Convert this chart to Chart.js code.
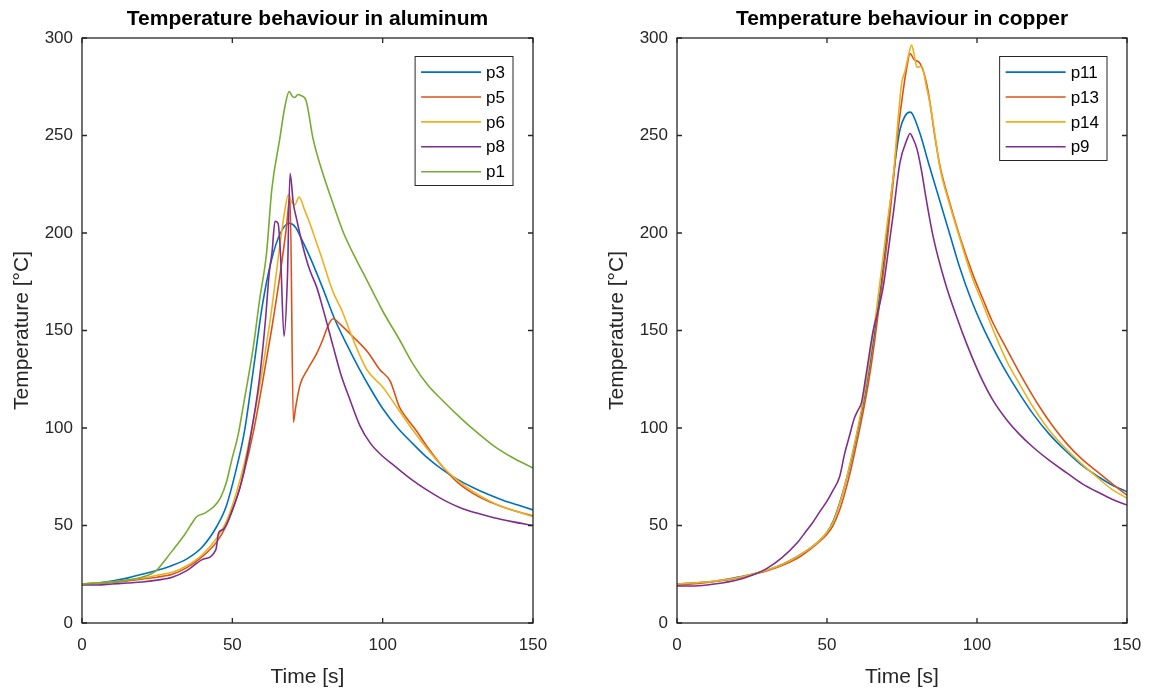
<!DOCTYPE html>
<html>
<head>
<meta charset="utf-8">
<script src="https://cdn.jsdelivr.net/npm/chart.js@4.4.1/dist/chart.umd.min.js"></script>
<style>
  html, body { margin: 0; padding: 0; background: #fff; }
  #wrap { position: relative; width: 1157px; height: 692px; overflow: hidden; }
  canvas { position: absolute; top: 0; }
</style>
</head>
<body>
<div id="wrap">
  <canvas id="al" width="578" height="692" style="left:0px"></canvas>
  <canvas id="cu" width="579" height="692" style="left:578px"></canvas>
</div>
<script>
// ---- Axis ticks ----
const timeTicks = [0, 50, 100, 150];
const tempTicks = [0, 50, 100, 150, 200, 250, 300];

// ---- Aluminum probes: time [s] and temperature [°C] ----
const alP3T = [0,5,10,15,20,25,30,35,40,45,48,51,54,57,60,63,66,69,71,73,76,80,84,88,92,96,100,105,110,115,120,125,130,135,140,145,150];
const alP3  = [20,20.5,21.5,23,25,27,29.5,33,39,50,60,77,98,130,163,186,200,205,203,197,187,172,156,143,131,120,110,100,92,84.5,78.5,73.5,69.5,66,63,60.5,58];

const alP5T = [0,5,10,15,20,25,30,35,40,45,48,51,54,57,60,63,66,68,69.2,70.3,71,72.5,75,78,80,82,83.5,86,90,95,99,102.5,105.5,108,111,115,120,125,130,135,140,145,150];
const alP5  = [20,20.3,20.8,21.5,22.5,23.5,25,28.5,34,42,50,62,78,98,123,150,180,203,219,103,110,122,130,138,145,153,156,153,147,139,130,124,111,105,99,90,80,72,66.5,62.5,59.5,57,55];

const alP6T = [0,5,10,15,20,25,30,35,40,45,48,51,54,57,60,63,65.5,67.5,68.6,69.7,70.8,72.2,74,76,78,80,82.5,84,86.5,90,94.7,100,105,110,115,120,125,130,135,140,145,150];
const alP6  = [20,20.5,21,22,23,24.5,26,29.5,35,44,52,65,82,104,130,160,190,212,219.5,216,214.5,218.5,212,204,195,186,174,168,160,146,130,121,110,99,89,80,73,67.5,63,59.5,57,54.5];

const alP8T = [0,5,10,15,20,25,30,35,40,44.5,45.5,47,50,53,56,59,61,62.3,63.2,64.2,65.2,66,67.2,68.3,69.2,70.3,71.4,73,74.7,76,78,80,83.5,86,89,92.5,96,100,104,108,112,116,121,126,131,137,143,150];
const alP8  = [19.5,19.5,20,20.5,21,22,23.5,27,32.5,37.5,46.5,48,58,72,95,125,155,180,190,206,205,190,147,176,230.5,215,207,196,186,180,172.5,162,142,128,115,101,92,85.5,80.5,75.5,71,67,62.5,59,56.5,54,52,50];

const alP1T = [0,5,10,15,20,24.8,28,31,34,36.5,38.1,41,43.7,46,48,49.8,52,53.6,57,59,61.4,63.1,65.8,67.5,68.9,70,70.8,71.8,72.8,74.5,76.9,80,83.5,87,91,94.7,100,105.7,110,115,120,125,130,136.8,143,150];
const alP1  = [20,20.5,21,22,23.5,27,33,39,45,51,54.5,56.5,59.5,64,72,83.6,97,111,141.7,165,190,222,248.5,265,272.5,270,269.5,271,270.5,268,248,231,215,200,187,176,160,145,133,122,114,106.5,99.5,91,85,79.5];

// ---- Copper probes: time [s] and temperature [°C] ----
const cuP11T = [0,5,10,15,20,25,30,35,40,45,48,50,52,54,56,58,60,62,64,66,68,69,71,73,74.3,76,77.7,78.5,81,84,87.7,91,94.3,98,102,105.4,110,115,118.8,124,129.9,135,141,145,150];
const cuP11  = [20,20.5,21,22,23.4,25,27,30,34,39,43,46.5,52,60.5,71,83,97,112,130,151,173,186,214,240,252.8,260,262,261,251,235,216,199,182,166,151.6,141,128,115.6,107,97,87.8,80.8,74.5,70.8,67.3];

const cuP13T = [0,5,10,15,20,25,30,35,40,45,48,50,52,54,56,58,60,62,64,66,68,70,72,73.5,75.4,76.5,77.7,79,81,82.5,84,86,87.7,91,94.3,98.8,102,105,109.9,115,121,125,129.9,135,141,145,150];
const cuP13  = [19.5,20,20.8,21.8,23,24.8,26.8,29.5,33,38.5,42.5,45.5,50,57,67,79,93,108,125,146,170,195,225,250,273,284,292,289,287,281,270,249,234,215,198,178,166,155,140.5,126,110.5,101.5,92,84,76.5,71.5,65.6];

const cuP14T = [0,5,10,15,20,25,30,35,40,45,48,50,52,54,56,58,60,62,64,66,68,70,72.1,73.5,74.9,76,77,78.2,79,80,81.6,83,84.5,86,87.7,91,94.3,98.2,102,106,110,114,118.8,124,129.9,135,141,145,150];
const cuP14  = [20,20.5,21,22,23.2,25,27.2,30,34,39,43,46.5,51.5,60,71,84,98,114,133,155,179,204,229,255,277,283,290,296.4,292,285,285.5,276,265,250,233,214,197,178,163.5,148,134,123,110.5,99,89,81.5,73.5,68.5,64];

const cuP9T = [0,5,10,15,20,25,30,35,40,43,45,48,50,52,54.2,55.9,57.5,59.1,60.3,61.5,63,65.4,67.5,68.8,70,72.1,74.3,76.6,77.7,78.5,80,81.5,83,85.4,89.3,93.2,96.6,101,105.4,110,114,118.8,124,129.9,135,141,145,150];
const cuP9  = [19,19,19.5,20.5,22,24.5,28,33.5,41,47,51,58,62.5,68,75,87,96,105,109,113,127,150,163,173,186,210,236,247.7,251,249,243,232,218,198,175,157,143,127,114,104,97,90,83.5,77,71.5,66.5,63.5,60.5];

// ---- Line colours ----
const C_BLUE = '#0072BD', C_RED = '#D95319', C_YEL = '#EDB120', C_PUR = '#7E2F8E', C_GRN = '#77AC30';
const AXIS_COLOR = '#262626';
const FONT = '"Liberation Sans", Arial, Helvetica, sans-serif';

function pts(t, v) { return t.map((x, i) => ({ x, y: v[i] })); }

// Box around the axes, inward ticks on all four sides, heading and legend
const framePlugin = {
  id: 'frame',
  afterDraw(chart, args, opts) {
    const { ctx, chartArea: a } = chart;
    const xs = chart.scales.x, ys = chart.scales.y;
    ctx.save();
    ctx.strokeStyle = AXIS_COLOR;
    ctx.lineWidth = 1.3;
    ctx.strokeRect(a.left, a.top, a.right - a.left, a.bottom - a.top);
    const tl = 5;
    ctx.beginPath();
    xs.ticks.forEach(tk => {
      const px = xs.getPixelForValue(tk.value);
      ctx.moveTo(px, a.bottom); ctx.lineTo(px, a.bottom - tl);
      ctx.moveTo(px, a.top); ctx.lineTo(px, a.top + tl);
    });
    ys.ticks.forEach(tk => {
      const py = ys.getPixelForValue(tk.value);
      ctx.moveTo(a.left, py); ctx.lineTo(a.left + tl, py);
      ctx.moveTo(a.right, py); ctx.lineTo(a.right - tl, py);
    });
    ctx.stroke();

    // heading
    ctx.fillStyle = '#000';
    ctx.font = 'bold 21px ' + FONT;
    ctx.textAlign = 'center';
    ctx.textBaseline = 'alphabetic';
    ctx.fillText(opts.text, (a.left + a.right) / 2, 25);

    // legend box
    const ds = chart.data.datasets;
    ctx.font = '17px ' + FONT;
    let maxW = 0;
    ds.forEach(d => { maxW = Math.max(maxW, ctx.measureText(d.label).width); });
    const w = 71 + maxW + 8;
    const h = ds.length * 25 + 4;
    const left = a.right - 20 - w;
    const top = 56.5;
    ctx.fillStyle = '#fff';
    ctx.fillRect(left, top, w, h);
    ctx.lineWidth = 1;
    ctx.strokeStyle = AXIS_COLOR;
    ctx.strokeRect(left, top, w, h);
    ctx.textAlign = 'left';
    ctx.textBaseline = 'middle';
    ds.forEach((d, i) => {
      const y = top + 15.6 + 24.9 * i;
      ctx.strokeStyle = d.borderColor;
      ctx.lineWidth = 1.6;
      ctx.beginPath();
      ctx.moveTo(left + 6, y);
      ctx.lineTo(left + 66, y);
      ctx.stroke();
      ctx.fillStyle = '#000';
      ctx.fillText(d.label, left + 71, y + 1);
    });
    ctx.restore();
  }
};

function makeChart(id, heading, series, yAxisWidth, rightPad, yTitlePad) {
  const n = series.length;
  return new Chart(document.getElementById(id), {
    type: 'line',
    data: {
      datasets: series.map((s, i) => ({
        label: s.label,
        data: pts(s.t, s.v),
        borderColor: s.color,
        backgroundColor: s.color,
        borderWidth: 1.6,
        pointRadius: 0,
        fill: false,
        cubicInterpolationMode: 'monotone',
        order: n - i
      }))
    },
    options: {
      responsive: false,
      animation: false,
      devicePixelRatio: 1,
      layout: { padding: { top: 38, right: rightPad, bottom: 0, left: 0 } },
      plugins: {
        legend: { display: false },
        title: { display: false },
        tooltip: { enabled: false },
        frame: { text: heading }
      },
      scales: {
        x: {
          type: 'linear', min: 0, max: 150,
          afterBuildTicks: s => { s.ticks = timeTicks.map(v => ({ value: v })); },
          ticks: { color: AXIS_COLOR, font: { family: FONT, size: 17 }, padding: 12, maxRotation: 0 },
          grid: { display: false, drawTicks: false },
          border: { display: false },
          title: { display: true, text: 'Time [s]', color: AXIS_COLOR, font: { family: FONT, size: 21 }, padding: { top: 0, bottom: 2.4 } },
          afterFit: s => { s.height = 69; }
        },
        y: {
          type: 'linear', min: 0, max: 300,
          afterBuildTicks: s => { s.ticks = tempTicks.map(v => ({ value: v })); },
          ticks: { color: AXIS_COLOR, font: { family: FONT, size: 17 }, padding: 9 },
          grid: { display: false, drawTicks: false },
          border: { display: false },
          title: { display: true, text: 'Temperature [°C]', color: AXIS_COLOR, font: { family: FONT, size: 21 }, padding: { top: yTitlePad, bottom: 0 } },
          afterFit: s => { s.width = yAxisWidth; }
        }
      }
    },
    plugins: [framePlugin]
  });
}

makeChart('al', 'Temperature behaviour in aluminum', [
  { label: 'p3', t: alP3T, v: alP3, color: C_BLUE },
  { label: 'p5', t: alP5T, v: alP5, color: C_RED },
  { label: 'p6', t: alP6T, v: alP6, color: C_YEL },
  { label: 'p8', t: alP8T, v: alP8, color: C_PUR },
  { label: 'p1', t: alP1T, v: alP1, color: C_GRN }
], 82, 45, 9.4);

makeChart('cu', 'Temperature behaviour in copper', [
  { label: 'p11', t: cuP11T, v: cuP11, color: C_BLUE },
  { label: 'p13', t: cuP13T, v: cuP13, color: C_RED },
  { label: 'p14', t: cuP14T, v: cuP14, color: C_YEL },
  { label: 'p9',  t: cuP9T,  v: cuP9,  color: C_PUR }
], 99, 30, 26.4);
</script>
</body>
</html>
